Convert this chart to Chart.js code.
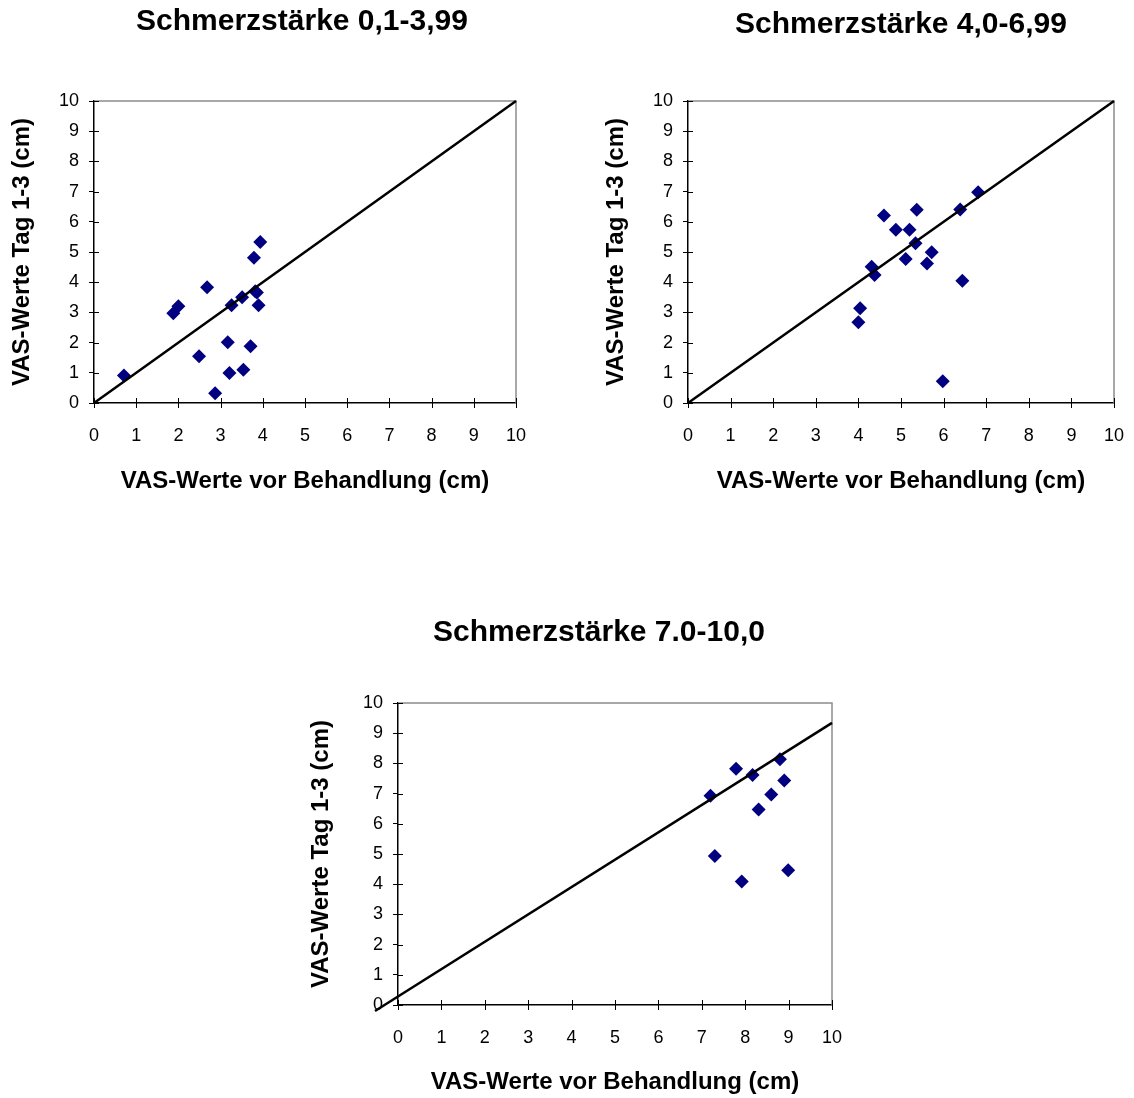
<!DOCTYPE html>
<html>
<head>
<meta charset="utf-8">
<script src="https://cdn.jsdelivr.net/npm/chart.js@4.4.1/dist/chart.umd.min.js"></script>
<style>
  body { margin: 0; background: #fff; width: 1134px; height: 1098px; position: relative; overflow: hidden; }
  canvas { position: absolute; }
</style>
</head>
<body>
<canvas id="chartLow" width="604" height="500" style="left:0;top:0"></canvas>
<canvas id="chartMid" width="540" height="500" style="left:594px;top:0"></canvas>
<canvas id="chartHigh" width="598" height="498" style="left:300px;top:600px"></canvas>
<script>
// chart titles and axis labels
const chartTitles = ['Schmerzstärke 0,1-3,99', 'Schmerzstärke 4,0-6,99', 'Schmerzstärke 7.0-10,0'];
const xAxisTitle = 'VAS-Werte vor Behandlung (cm)';
const yAxisTitle = 'VAS-Werte Tag 1-3 (cm)';
const axisMin = 0, axisMax = 10, axisStep = 1;

// pain 0,1-3,99
const lowX = [0.71, 1.88, 2.00, 2.68, 2.49, 3.17, 3.21, 2.87, 3.26, 3.51, 3.54, 3.71, 3.82, 3.86, 3.79, 3.90, 3.94];
const lowY = [0.91, 2.97, 3.20, 3.83, 1.55, 2.01, 0.99, 0.32, 3.24, 3.50, 1.10, 1.88, 3.70, 3.66, 4.81, 3.24, 5.33];

// pain 4,0-6,99
const midX = [4.60, 5.37, 4.88, 5.20, 5.34, 5.72, 5.61, 5.11, 4.31, 4.38, 4.04, 4.00, 5.98, 6.44, 6.39, 6.81];
const midY = [6.21, 6.40, 5.74, 5.74, 5.29, 4.99, 4.62, 4.77, 4.51, 4.24, 3.14, 2.67, 0.72, 4.05, 6.41, 6.98];

// pain 7.0-10,0
const highX = [7.20, 7.79, 8.17, 8.80, 8.90, 8.60, 8.31, 7.30, 7.92, 8.99];
const highY = [6.93, 7.82, 7.62, 8.14, 7.43, 6.97, 6.47, 4.93, 4.09, 4.46];

// reference lines (end points)
const diagX = [0, 10];
const diagY = [0, 10];
const highLineX = [-0.53, 10];
const highLineY = [-0.2, 9.34];

Chart.defaults.font.family = '"Liberation Sans", Arial, sans-serif';
Chart.defaults.color = '#000';

function pts(xs, ys) {
  return xs.map((x, i) => ({ x: x, y: ys[i] }));
}

// gray frame on top/right + tick marks crossing the axes
const frame = {
  id: 'frame',
  beforeDatasetsDraw(chart) {
    const { ctx, chartArea: a, scales } = chart;
    ctx.save();
    ctx.strokeStyle = '#8c8c8c';
    ctx.lineWidth = 1.5;
    ctx.beginPath();
    ctx.moveTo(a.left, a.top);
    ctx.lineTo(a.right, a.top);
    ctx.lineTo(a.right, a.bottom);
    ctx.stroke();
    ctx.strokeStyle = '#000';
    ctx.lineWidth = 1;
    ctx.beginPath();
    scales.x.ticks.forEach(t => {
      const px = Math.round(scales.x.getPixelForValue(t.value)) + 0.5;
      ctx.moveTo(px, a.bottom + 5);
      ctx.lineTo(px, a.bottom - 5);
    });
    scales.y.ticks.forEach(t => {
      const py = Math.round(scales.y.getPixelForValue(t.value)) + 0.5;
      ctx.moveTo(a.left, py);
      ctx.lineTo(a.left + 5, py);
    });
    ctx.stroke();
    ctx.restore();
  }
};

function makeChart(id, title, xs, ys, lx, ly, g) {
  const axisBase = {
    type: 'linear',
    min: axisMin,
    max: axisMax,
    border: { color: '#000', width: 1.5 }
  };
  new Chart(document.getElementById(id), {
    type: 'scatter',
    data: {
      datasets: [
        { type: 'line', data: pts(lx, ly), borderColor: '#000', borderWidth: 2.5, pointRadius: 0, order: 0, clip: false },
        { data: pts(xs, ys), pointStyle: 'rectRot', pointRadius: 7, backgroundColor: '#000080', borderColor: '#000080', borderWidth: 0, order: 1 }
      ]
    },
    options: {
      responsive: false,
      animation: false,
      layout: { padding: 0 },
      plugins: {
        legend: { display: false },
        tooltip: { enabled: false },
        title: {
          display: true,
          text: title,
          fullSize: g.fullTitle,
          font: { size: 30, weight: 'bold' },
          padding: { top: g.tTop, bottom: g.tBottom }
        }
      },
      scales: {
        x: Object.assign({}, axisBase, {
          grid: { drawOnChartArea: false, tickLength: 22, tickColor: 'rgba(0,0,0,0)' },
          ticks: { stepSize: axisStep, padding: 0, font: { size: 18 } },
          title: { display: true, text: xAxisTitle, font: { size: 24, weight: 'bold' }, padding: { top: 0, bottom: g.xtPad } },
          afterFit: s => { s.height = g.xH; }
        }),
        y: Object.assign({}, axisBase, {
          grid: { drawOnChartArea: false, tickLength: 5, tickColor: '#000' },
          ticks: { stepSize: axisStep, padding: 10, font: { size: 18 } },
          title: { display: true, text: yAxisTitle, font: { size: 24, weight: 'bold' }, padding: { top: g.ytPad, bottom: 0 } },
          afterFit: s => { s.width = g.yW; }
        }),
        // empty right axis, only holds the space right of the plot
        spacer: {
          type: 'linear',
          position: 'right',
          display: true,
          ticks: { display: false },
          grid: { display: false },
          border: { display: false },
          afterFit: s => { s.width = g.right; }
        }
      }
    },
    plugins: [frame]
  });
}

makeChart('chartLow', chartTitles[0], lowX, lowY, diagX, diagY,
  { right: 88, fullTitle: true, tTop: 4, tBottom: 61, xH: 97, yW: 94, xtPad: 4, ytPad: 8 });
makeChart('chartMid', chartTitles[1], midX, midY, diagX, diagY,
  { right: 20, fullTitle: false, tTop: 7, tBottom: 58, xH: 97, yW: 94, xtPad: 4, ytPad: 8 });
makeChart('chartHigh', chartTitles[2], highX, highY, highLineX, highLineY,
  { right: 66, fullTitle: true, tTop: 15, tBottom: 52, xH: 93, yW: 98, xtPad: 1, ytPad: 7 });
</script>
</body>
</html>
